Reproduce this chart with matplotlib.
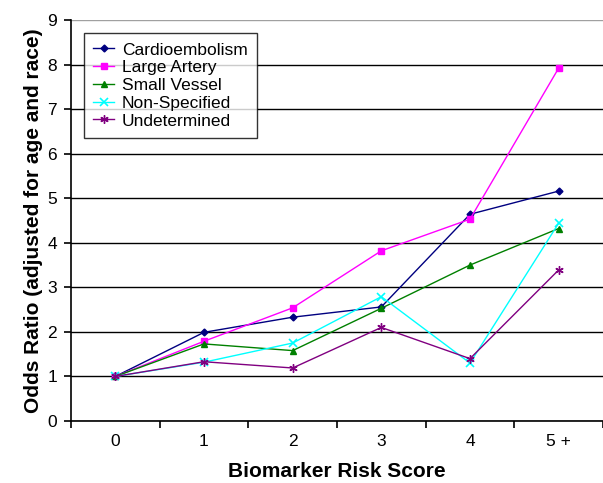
import numpy as np
import matplotlib
matplotlib.use("Agg")
import matplotlib.pyplot as plt
from matplotlib.ticker import FixedLocator, NullFormatter

plt.rcParams["font.family"] = ["Liberation Sans", "DejaVu Sans"]

# ----------------------------
# Data
# ----------------------------
categories = ["0", "1", "2", "3", "4", "5 +"]

cardioembolism = [1.00, 1.99, 2.33, 2.56, 4.64, 5.16]
large_artery   = [1.00, 1.79, 2.54, 3.82, 4.53, 7.92]
small_vessel   = [1.00, 1.73, 1.58, 2.53, 3.50, 4.32]
non_specified  = [1.00, 1.32, 1.75, 2.79, 1.30, 4.44]
undetermined   = [1.00, 1.33, 1.19, 2.10, 1.40, 3.39]

series_names = ["Cardioembolism", "Large Artery", "Small Vessel",
                "Non-Specified", "Undetermined"]

# ----------------------------
# Styles
# ----------------------------
styles = [
    dict(color="#000080", marker="D", markersize=3.5),
    dict(color="#FF00FF", marker="s", markersize=5),
    dict(color="#008000", marker="^", markersize=5),
    dict(color="#00FFFF", marker="x", markersize=6, markeredgewidth=1.2),
    dict(color="#800080", marker=(6, 2, 0), markersize=6, markeredgewidth=1.0),
]

TICK_FS = 12.5
LABEL_FS = 15

fig = plt.figure(figsize=(6.03, 4.83), dpi=100)
ax = fig.add_axes([71 / 603, 1 - 421 / 483, 532 / 603, 401 / 483])

x = np.arange(len(categories))
all_series = [cardioembolism, large_artery, small_vessel, non_specified, undetermined]
for name, vals, st in zip(series_names, all_series, styles):
    ax.plot(x, vals, label=name, linewidth=1.0, **st)

ax.set_xlim(-0.5, len(categories) - 0.5)
ax.set_ylim(0, 9)
ax.set_yticks(range(0, 10))
ax.yaxis.grid(True, color="black", linewidth=1.0)
ax.set_axisbelow(True)
# top gridline is drawn lighter in the original
ax.get_ygridlines()[-1].set_color("#a0a0a0")

# x ticks between categories, labels centered
ax.set_xticks(x)
ax.set_xticklabels(categories, fontsize=TICK_FS)
ax.tick_params(axis="x", which="major", length=0, pad=9)
ax.xaxis.set_minor_locator(FixedLocator(np.arange(-0.5, len(categories), 1.0)))
ax.xaxis.set_minor_formatter(NullFormatter())
ax.tick_params(axis="x", which="minor", length=5, direction="out", width=1.2)
ax.tick_params(axis="y", labelsize=TICK_FS, length=5, direction="out", width=1.2, pad=5)

for s in ["top", "right"]:
    ax.spines[s].set_visible(False)
ax.spines["left"].set_linewidth(1.2)
ax.spines["bottom"].set_linewidth(1.2)

ax.set_xlabel("Biomarker Risk Score", fontsize=LABEL_FS, fontweight="bold", labelpad=10)
ax.set_ylabel("Odds Ratio (adjusted for age and race)", fontsize=LABEL_FS,
              fontweight="bold", labelpad=3)

leg = ax.legend(loc="upper left", bbox_to_anchor=(0.024, 0.968), fontsize=12.5,
                frameon=True, fancybox=False, edgecolor="black",
                handlelength=1.2, borderpad=0.55, labelspacing=0.15,
                handletextpad=0.45, borderaxespad=0)
leg.get_frame().set_linewidth(1.0)

fig.savefig("out.png", dpi=100)
